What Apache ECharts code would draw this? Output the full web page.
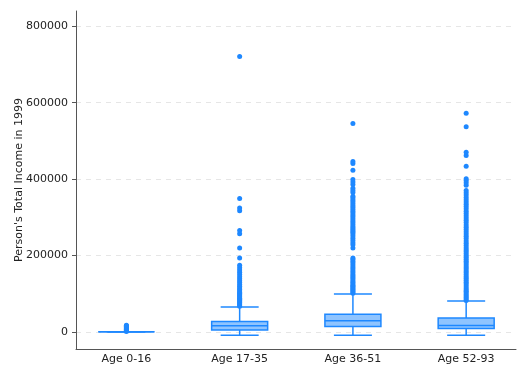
<!DOCTYPE html>
<html>
<head>
<meta charset="utf-8">
<script src="https://cdn.jsdelivr.net/npm/echarts@6/dist/echarts.min.js"></script>
<style>html,body{margin:0;padding:0;background:#fff}#c{width:528px;height:384px}</style>
</head>
<body>
<div id="c"></div>
<script>
const categories = ['Age 0-16', 'Age 17-35', 'Age 36-51', 'Age 52-93'];
const yTicks = [0, 200000, 400000, 600000, 800000];
const whiskerLow = [0, -9000, -9000, -9000];
const q1 = [0, 5000, 14000, 9000];
const median = [0, 16000, 29000, 16500];
const q3 = [0, 27000, 46000, 36000];
const whiskerHigh = [0, 65000, 99000, 80500];

const outliers0 = [1000, 2500, 4000, 5500, 7000, 8500, 10000, 11500, 13000, 14500, 16000, 17500];
const outliers1 = [67000, 70000, 73000, 76000, 79000, 82000, 85000, 88000, 91000, 94000, 97000, 100000, 103000, 107000, 111000, 115000, 119000, 124000, 129000, 134000, 139000, 144000, 150000, 156000, 162000, 168000, 174000, 193000, 219500, 257000, 265500, 317000, 324500, 349000, 721000];
const outliers2 = [101000, 104000, 107000, 110000, 113000, 116000, 119000, 122000, 126000, 130000, 134000, 138000, 142000, 146000, 150000, 155000, 160000, 165000, 170000, 175000, 180000, 185000, 190000, 193000, 219500, 228000, 233000, 239000, 245000, 251000, 256000, 261000, 264000, 268000, 272000, 276000, 281000, 286000, 291000, 296000, 301000, 306000, 311000, 316000, 321000, 326000, 331000, 336000, 341000, 346000, 351000, 355000, 365000, 370000, 376000, 386000, 392000, 399000, 423000, 441000, 446000, 545600];
const outliers3 = [82000, 86000, 90000, 94000, 98000, 102000, 106000, 110000, 115000, 120000, 125000, 130000, 135000, 140000, 145000, 150000, 155000, 160000, 165000, 170000, 175000, 180000, 185000, 190000, 195000, 200000, 205000, 210000, 215000, 220000, 226000, 232000, 238000, 244000, 250000, 256000, 262000, 268000, 274000, 280000, 286000, 292000, 298000, 304000, 310000, 316000, 322000, 328000, 334000, 340000, 346000, 352000, 358000, 364000, 370000, 384000, 390000, 396000, 401000, 433500, 461500, 470000, 537000, 572500];

const outlierGroups = [outliers0, outliers1, outliers2, outliers3];
const STROKE = '#1E88FF';
const FILL = '#8FC4FF';
const FONT = 'DejaVu Sans';

const boxData = categories.map((c, i) => [i, whiskerLow[i], q1[i], median[i], q3[i], whiskerHigh[i]]);
const outlierData = [];
outlierGroups.forEach((g, i) => g.forEach(v => outlierData.push([i, v])));

const chart = echarts.init(document.getElementById('c'), null, {renderer: 'canvas'});
chart.setOption({
  animation: false,
  backgroundColor: '#fff',
  textStyle: {fontFamily: FONT},
  grid: {left: 76, right: 12, top: 11, bottom: 35, containLabel: false, outerBoundsMode: 'none'},
  xAxis: {
    type: 'value',
    min: -0.445,
    max: 3.44,
    axisLine: {show: true, onZero: false, lineStyle: {color: '#555', width: 1}},
    axisTick: {show: false},
    splitLine: {show: false},
    axisLabel: {
      customValues: [0, 1, 2, 3],
      formatter: v => categories[Math.round(v)] || '',
      color: '#222', fontSize: 11, fontFamily: FONT, margin: 5
    }
  },
  yAxis: {
    type: 'value',
    min: -45000,
    max: 840000,
    name: "Person's Total Income in 1999",
    nameLocation: 'middle',
    nameGap: 51,
    nameMoveOverlap: false,
    nameTextStyle: {color: '#222', fontSize: 11, fontFamily: FONT},
    axisLine: {show: true, onZero: false, lineStyle: {color: '#555', width: 1}},
    axisTick: {show: true, customValues: yTicks, length: 4, lineStyle: {color: '#555'}},
    axisLabel: {customValues: yTicks, formatter: v => String(v), color: '#222', fontSize: 11, fontFamily: FONT, margin: 8},
    splitLine: {show: true, lineStyle: {color: '#e6e6e6', type: [5, 5], width: 1}}
  },
  series: [
    {
      type: 'custom',
      data: boxData,
      z: 2,
      renderItem: function (params, api) {
        const x = api.value(0);
        const lo = api.coord([x, api.value(1)]);
        const a = api.coord([x, api.value(2)]);
        const m = api.coord([x, api.value(3)]);
        const b = api.coord([x, api.value(4)]);
        const hi = api.coord([x, api.value(5)]);
        const cx = lo[0];
        const bw = 56, cw = 38;
        const ls = {stroke: STROKE, lineWidth: 1.5};
        return {
          type: 'group',
          children: [
            {type: 'line', shape: {x1: cx, y1: a[1], x2: cx, y2: lo[1]}, style: ls},
            {type: 'line', shape: {x1: cx, y1: b[1], x2: cx, y2: hi[1]}, style: ls},
            {type: 'line', shape: {x1: cx - cw / 2, y1: lo[1], x2: cx + cw / 2, y2: lo[1]}, style: ls},
            {type: 'line', shape: {x1: cx - cw / 2, y1: hi[1], x2: cx + cw / 2, y2: hi[1]}, style: ls},
            {type: 'rect', shape: {x: cx - bw / 2, y: b[1], width: bw, height: a[1] - b[1]}, style: {fill: FILL, stroke: STROKE, lineWidth: 1.5}},
            {type: 'line', shape: {x1: cx - bw / 2, y1: m[1], x2: cx + bw / 2, y2: m[1]}, style: ls}
          ]
        };
      }
    },
    {
      type: 'scatter',
      data: outlierData,
      z: 3,
      symbol: 'circle',
      symbolSize: 5,
      itemStyle: {color: STROKE, opacity: 1}
    }
  ]
});
</script>
</body>
</html>
